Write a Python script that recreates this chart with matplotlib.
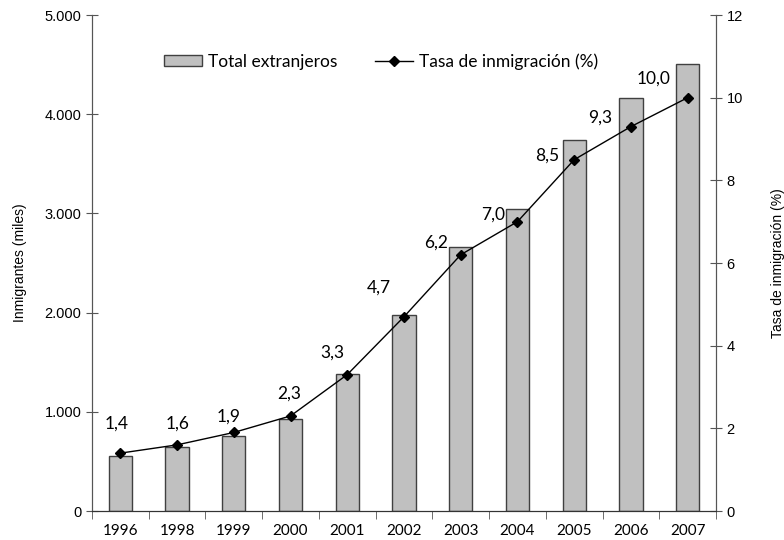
import matplotlib
matplotlib.use("Agg")
import matplotlib.pyplot as plt
import numpy as np

# ============================================================
# DATA
# ============================================================
YEARS = ["1996", "1998", "1999", "2000", "2001", "2002",
         "2003", "2004", "2005", "2006", "2007"]
TOTAL_EXTRANJEROS = [551, 648, 756, 924, 1378, 1976, 2664, 3044, 3737, 4160, 4503]
TASA = [1.4, 1.6, 1.9, 2.3, 3.3, 4.7, 6.2, 7.0, 8.5, 9.3, 10.0]
TASA_LABELS = ["1,4", "1,6", "1,9", "2,3", "3,3", "4,7", "6,2", "7,0", "8,5", "9,3", "10,0"]

# label offsets from the marker, in pixels (dx, dy)
LABEL_OFFSETS = [(-4, 30), (0, 21), (-5, 16), (-1, 22), (-15, 22), (-25, 29),
                 (-25, 12), (-24, 7), (-27, 4), (-31, 9), (-34, 19)]

TICK_FONT = "Liberation Sans"
TEXT_FONT = "Lato"
AXIS_GREY = "#555555"


def fmt_thousands(v, pos=None):
    return f"{int(v):,}".replace(",", ".")


def main():
    fig = plt.figure(figsize=(7.84, 5.40), dpi=100)
    ax = fig.add_axes([0.1173, 0.0537, 0.7960, 0.9185])
    ax2 = ax.twinx()

    x = np.arange(len(YEARS))

    ax.bar(x, TOTAL_EXTRANJEROS, width=0.41, color="#c0c0c0",
           edgecolor="#404040", linewidth=1.0, label="Total extranjeros", zorder=2)

    ax2.plot(x, TASA, color="black", linewidth=1.0, marker="D", markersize=5,
             markerfacecolor="black", label="Tasa de inmigración (%)", zorder=3)

    for xi, v, txt, (dx, dy) in zip(x, TASA, TASA_LABELS, LABEL_OFFSETS):
        ax2.annotate(txt, (xi, v), xytext=(dx, dy), textcoords="offset pixels",
                     ha="center", va="center", fontsize=12.5, family=TEXT_FONT)

    # --- axes ---
    ax.set_xlim(-0.5, len(YEARS) - 0.5)
    ax.set_ylim(0, 5000)
    ax2.set_ylim(0, 12)
    ax.set_yticks(range(0, 5001, 1000))
    ax.yaxis.set_major_formatter(plt.FuncFormatter(fmt_thousands))
    ax2.set_yticks(range(0, 13, 2))

    ax.set_xticks(x)
    ax.set_xticklabels(YEARS, family=TEXT_FONT, fontsize=11)
    ax.set_xticks(np.arange(-0.5, len(YEARS), 1.0), minor=True)
    ax.tick_params(axis="x", which="major", length=0, pad=9)
    ax.tick_params(axis="x", which="minor", length=6, direction="out", color=AXIS_GREY)

    ax.tick_params(axis="y", direction="inout", length=8, color=AXIS_GREY, labelsize=10.5)
    ax2.tick_params(axis="y", direction="inout", length=8, color=AXIS_GREY, labelsize=10.5)
    for lab in ax.get_yticklabels() + ax2.get_yticklabels():
        lab.set_family(TICK_FONT)

    for a in (ax, ax2):
        a.spines["top"].set_visible(False)
        a.spines["left"].set_color(AXIS_GREY)
        a.spines["right"].set_color(AXIS_GREY)
        a.spines["bottom"].set_color("#333333")

    ax.set_ylabel("Inmigrantes (miles)", family=TICK_FONT, fontsize=10, labelpad=13)
    ax2.set_ylabel("Tasa de inmigración (%)", family=TICK_FONT, fontsize=10, labelpad=20)

    # --- legend ---
    h1, l1 = ax.get_legend_handles_labels()
    h2, l2 = ax2.get_legend_handles_labels()
    ax2.legend(h1 + h2, l1 + l2, loc="upper center", bbox_to_anchor=(0.463, 0.955),
               ncol=2, frameon=False, prop={"family": TEXT_FONT, "size": 12.5},
               handlelength=2.2, handleheight=0.55, handletextpad=0.3, columnspacing=2.2)

    fig.savefig("out.png", dpi=100)
    plt.close(fig)


if __name__ == "__main__":
    main()
